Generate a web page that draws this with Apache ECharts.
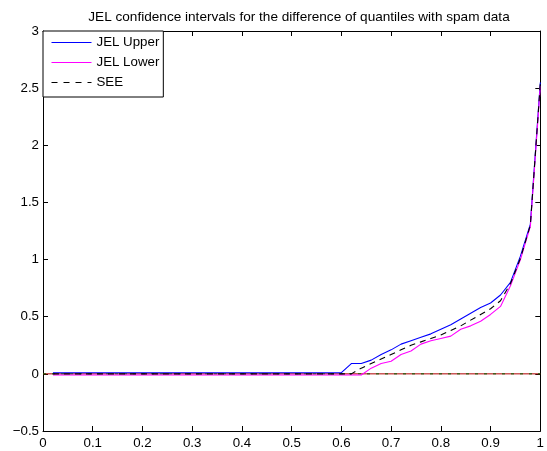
<!DOCTYPE html>
<html>
<head>
<meta charset="utf-8">
<script src="https://cdn.jsdelivr.net/npm/echarts@6/dist/echarts.min.js"></script>
<style>
html,body{margin:0;padding:0;background:#fff;}
#main{width:547px;height:451px;}
</style>
</head>
<body>
<div id="main"></div>
<script>
// quantile levels
var xs = [0.02,0.04,0.06,0.08,0.10,0.12,0.14,0.16,0.18,0.20,
	0.22,0.24,0.26,0.28,0.30,0.32,0.34,0.36,0.38,0.40,
	0.42,0.44,0.46,0.48,0.50,0.52,0.54,0.56,0.58,0.60,
	0.62,0.64,0.66,0.68,0.70,0.72,0.74,0.76,0.78,0.80,
	0.82,0.84,0.86,0.88,0.90,0.92,0.94,0.96,0.98,1.00];
// JEL upper bound
var upper = [0.01,0.01,0.01,0.01,0.01,0.01,0.01,0.01,0.01,0.01,
	0.01,0.01,0.01,0.01,0.01,0.01,0.01,0.01,0.01,0.01,
	0.01,0.01,0.01,0.01,0.01,0.01,0.01,0.01,0.01,0.01,
	0.09,0.09,0.12,0.17,0.21,0.26,0.29,0.32,0.35,0.39,
	0.43,0.48,0.53,0.58,0.62,0.69,0.80,1.03,1.31,2.55];
// JEL lower bound
var lower = [-0.01,-0.01,-0.01,-0.01,-0.01,-0.01,-0.01,-0.01,-0.01,-0.01,
	-0.01,-0.01,-0.01,-0.01,-0.01,-0.01,-0.01,-0.01,-0.01,-0.01,
	-0.01,-0.01,-0.01,-0.01,-0.01,-0.01,-0.01,-0.01,-0.01,-0.01,
	-0.01,-0.01,0.05,0.09,0.11,0.17,0.20,0.26,0.29,0.31,
	0.33,0.39,0.42,0.46,0.52,0.59,0.77,1.00,1.29,2.52];
// SEE estimate
var see = [0,0,0,0,0,0,0,0,0,0,
	0,0,0,0,0,0,0,0,0,0,
	0,0,0,0,0,0,0,0,0,0,
	0,0.05,0.09,0.13,0.17,0.21,0.25,0.28,0.31,0.34,
	0.38,0.42,0.47,0.52,0.57,0.64,0.79,1.01,1.30,2.54];
// zero reference line
var zeroX = [0, 1];
var zeroY = [0, 0];

function pairs(a, b){
	var out = [];
	for (var i = 0; i < a.length; i++) out.push([a[i], b[i]]);
	return out;
}

var FONT = 'Liberation Sans, Arial, sans-serif';
var myChart = echarts.init(document.getElementById('main'), null, {renderer: 'canvas'});
var tickFmt = function(v){ return String(+v.toFixed(2)).replace('-', '\u2212'); };

var option = {
	animation: false,
	backgroundColor: '#fff',
	title: {
		text: 'JEL confidence intervals for the difference of quantiles with spam data',
		left: 294,
		top: 5,
		textAlign: 'center',
		textStyle: {fontFamily: FONT, fontSize: 13.6, fontWeight: 'normal', color: '#000'}
	},
	legend: {
		left: 43,
		top: 31,
		orient: 'vertical',
		backgroundColor: '#fff',
		borderColor: '#000',
		borderWidth: 1,
		borderRadius: 0,
		padding: [5, 4, 8, 8],
		itemWidth: 40,
		itemHeight: 11,
		itemGap: 7,
		itemStyle: {opacity: 0},
		textStyle: {fontFamily: FONT, fontSize: 13.3, color: '#000'},
		data: [
			{name: 'JEL Upper', lineStyle: {color: '#0000ff', width: 1, type: 'solid'}},
			{name: 'JEL Lower', lineStyle: {color: '#ff00ff', width: 1, type: 'solid'}},
			{name: 'SEE', lineStyle: {color: '#000000', width: 1, type: [6, 6]}}
		]
	},
	grid: {left: 43, top: 31, width: 506, height: 400, containLabel: false},
	xAxis: [{
		type: 'value', min: 0, max: 1, interval: 0.1, position: 'bottom',
		axisLine: {onZero: false, lineStyle: {color: '#000', width: 1}},
		axisTick: {inside: true, length: 5, lineStyle: {color: '#000'}},
		axisLabel: {margin: 6, fontFamily: FONT, fontSize: 13.3, color: '#000', formatter: tickFmt},
		splitLine: {show: false}
	}, {
		type: 'value', min: 0, max: 1, interval: 0.1, position: 'top',
		axisLine: {onZero: false, lineStyle: {color: '#000', width: 1}},
		axisTick: {inside: true, length: 5, lineStyle: {color: '#000'}},
		axisLabel: {show: false},
		splitLine: {show: false}
	}],
	yAxis: [{
		type: 'value', min: -0.5, max: 3, interval: 0.5, position: 'left',
		axisLine: {show: true, onZero: false, lineStyle: {color: '#000', width: 1}},
		axisTick: {show: true, inside: true, length: 5, lineStyle: {color: '#000'}},
		axisLabel: {margin: 4, fontFamily: FONT, fontSize: 13.3, color: '#000', formatter: tickFmt},
		splitLine: {show: false}
	}, {
		type: 'value', min: -0.5, max: 3, interval: 0.5, position: 'right',
		axisLine: {show: true, onZero: false, lineStyle: {color: '#000', width: 1}},
		axisTick: {show: true, inside: true, length: 5, lineStyle: {color: '#000'}},
		axisLabel: {show: false},
		splitLine: {show: false}
	}],
	series: [{
		name: 'zero',
		type: 'line',
		data: pairs(zeroX, zeroY),
		symbol: 'none',
		silent: true,
		lineStyle: {color: '#b00000', width: 1},
		z: 1
	}, {
		name: 'zero2',
		type: 'line',
		data: pairs(zeroX, zeroY),
		symbol: 'none',
		silent: true,
		lineStyle: {color: '#006000', width: 1, type: [3, 6]},
		z: 2
	}, {
		name: 'JEL Upper',
		type: 'line',
		data: pairs(xs, upper),
		symbol: 'none',
		itemStyle: {color: '#0000ff'},
		lineStyle: {color: '#0000ff', width: 1.1},
		z: 3
	}, {
		name: 'JEL Lower',
		type: 'line',
		data: pairs(xs, lower),
		symbol: 'none',
		itemStyle: {color: '#ff00ff'},
		lineStyle: {color: '#ff00ff', width: 1.1},
		z: 4
	}, {
		name: 'SEE',
		type: 'line',
		data: pairs(xs, see),
		symbol: 'none',
		itemStyle: {color: '#000'},
		lineStyle: {color: '#000', width: 1.1, type: [6, 5]},
		z: 5
	}]
};
myChart.setOption(option);
</script>
</body>
</html>
